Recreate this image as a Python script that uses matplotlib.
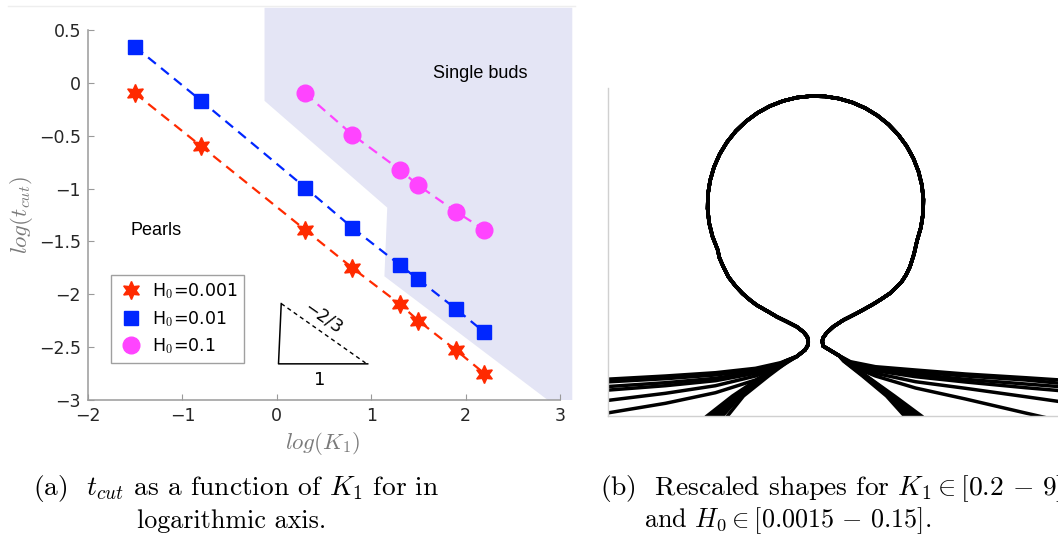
import numpy as np
import matplotlib
matplotlib.use("Agg")
import matplotlib.pyplot as plt
from matplotlib.patches import Polygon
from matplotlib.lines import Line2D

plt.rcParams['mathtext.fontset'] = 'cm'
plt.rcParams['font.family'] = 'DejaVu Sans'

# (a) cut time against K1, one series per spontaneous curvature H0
log_K1 = [-1.5, -0.8, 0.3, 0.8, 1.3, 1.5, 1.9, 2.2]
log_t_H0_001 = [-0.10, -0.60, -1.39, -1.75, -2.09, -2.25, -2.53, -2.75]
log_t_H0_01 = [0.34, -0.17, -0.99, -1.37, -1.72, -1.86, -2.14, -2.36]
log_K1_H0_1 = [0.3, 0.8, 1.3, 1.5, 1.9, 2.2]
log_t_H0_1 = [-0.10, -0.49, -0.82, -0.97, -1.22, -1.39]
series_labels = ['H$_0$=0.001', 'H$_0$=0.01', 'H$_0$=0.1']

# outline of the single-bud regime
buds_x = [-0.13, -0.13, 1.17, 1.14, 2.87, 3.13, 3.13]
buds_y = [0.71, -0.17, -1.18, -1.83, -3.0, -3.0, 0.71]

# (b) rescaled profiles; shared bud running from the left neck tip to the right one
bud_x = [-0.072, -0.082, -0.12, -0.188, -0.29, -0.388, -0.45, -0.52, -0.59, -0.655,
         -0.73, -0.80, -0.87, -0.922, -0.96, -0.979,
         -1.030, -1.064, -1.079, -1.076, -1.054, -1.015, -0.958, -0.885, -0.796,
         -0.694, -0.580, -0.456, -0.325, -0.188, -0.047, 0.094, 0.234, 0.369, 0.499,
         0.619, 0.730, 0.827, 0.911, 0.979, 1.030, 1.064, 1.079, 1.076, 1.054, 1.015,
         0.985, 0.945, 0.905, 0.86, 0.80, 0.745, 0.66, 0.58, 0.50, 0.412, 0.34, 0.28,
         0.178, 0.11, 0.075, 0.068]
bud_y = [0.743, 0.793, 0.84, 0.893, 0.945, 0.993, 1.03, 1.07, 1.11, 1.16,
         1.225, 1.30, 1.39, 1.493, 1.58, 1.664,
         1.795, 1.932, 2.073, 2.214, 2.354, 2.489, 2.619, 2.739, 2.850,
         2.947, 3.031, 3.099, 3.150, 3.184, 3.199, 3.196, 3.174, 3.135, 3.078,
         3.005, 2.916, 2.814, 2.700, 2.576, 2.445, 2.308, 2.167, 2.026, 1.886, 1.751,
         1.62, 1.493, 1.41, 1.34, 1.28, 1.227, 1.17, 1.12, 1.075, 1.027, 0.99, 0.96,
         0.893, 0.83, 0.78, 0.75]
# below the neck tips
neck_left_x = [-0.08, -0.105, -0.188]
neck_left_y = [0.70, 0.66, 0.595]
neck_right_x = [0.075, 0.133, 0.233]
neck_right_y = [0.70, 0.665, 0.605]

# flattening tails
flat_left_x = [-0.35, -0.6, -1.0, -1.5, -2.1]
flat_left_y = [
    [0.533, 0.477, 0.433, 0.400, 0.367],
    [0.527, 0.460, 0.410, 0.373, 0.340],
    [0.520, 0.443, 0.377, 0.333, 0.293],
    [0.513, 0.427, 0.353, 0.303, 0.257],
    [0.503, 0.400, 0.303, 0.227, 0.153],
    [0.493, 0.360, 0.233, 0.127, 0.027],
]
flat_right_x = [0.35, 0.6, 1.0, 1.5, 2.1, 2.45]
flat_right_y = [
    [0.543, 0.493, 0.460, 0.420, 0.383, 0.360],
    [0.537, 0.480, 0.440, 0.400, 0.360, 0.327],
    [0.530, 0.467, 0.417, 0.367, 0.320, 0.293],
    [0.523, 0.453, 0.393, 0.340, 0.283, 0.253],
    [0.513, 0.427, 0.343, 0.277, 0.193, 0.143],
    [0.503, 0.400, 0.280, 0.170, 0.030, -0.050],
]
# steep tails, x given at fixed heights
steep_y = [0.55, 0.4, 0.2, 0.0]
steep_left_x = [
    [-0.27, -0.47, -0.72, -0.88],
    [-0.28, -0.49, -0.75, -0.93],
    [-0.29, -0.50, -0.77, -0.97],
    [-0.29, -0.51, -0.79, -1.01],
    [-0.30, -0.52, -0.81, -1.05],
    [-0.30, -0.53, -0.83, -1.085],
]
steep_right_x = [
    [0.28, 0.47, 0.71, 0.89],
    [0.285, 0.48, 0.73, 0.93],
    [0.29, 0.49, 0.745, 0.97],
    [0.295, 0.50, 0.76, 1.00],
    [0.30, 0.505, 0.775, 1.03],
    [0.30, 0.51, 0.79, 1.06],
]

W, H = 1058, 536
fig = plt.figure(figsize=(W / 100, H / 100), dpi=100)


def fx(px):
    return px / W


def fy(py):
    return 1 - py / H


# ---------------- panel (a)
ax = fig.add_axes([fx(88), fy(400), fx(560) - fx(88), fy(30) - fy(400)])
ax.set_xlim(-2, 3)
ax.set_ylim(-3, 0.5)

ax.add_patch(Polygon(np.column_stack([buds_x, buds_y]), closed=True,
                     facecolor='#e4e5f5', edgecolor='none', zorder=0, clip_on=False))

dash = (0, (4.5, 3))
red, blue, magenta = '#ff2a00', '#0026ff', '#ff44ff'
ax.plot(log_K1, log_t_H0_001, linestyle=dash, color=red, lw=1.6, zorder=2)
ax.plot(log_K1, log_t_H0_01, linestyle=dash, color=blue, lw=1.6, zorder=2)
ax.plot(log_K1_H0_1, log_t_H0_1, linestyle=dash, color=magenta, lw=1.6, zorder=2)
h1, = ax.plot(log_K1, log_t_H0_001, linestyle='none', marker=(6, 1, 0), ms=13,
              color=red, mec=red, zorder=3)
h2, = ax.plot(log_K1, log_t_H0_01, linestyle='none', marker='s', ms=10,
              color=blue, mec=blue, zorder=3)
h3, = ax.plot(log_K1_H0_1, log_t_H0_1, linestyle='none', marker='o', ms=12,
              color=magenta, mec=magenta, zorder=3)

leg = ax.legend([h1, h2, h3], series_labels, loc='upper left',
                bbox_to_anchor=(0.049, 0.338), borderaxespad=0, fontsize=12.5,
                fancybox=False, framealpha=1, edgecolor='#a0a0a0',
                handletextpad=0.4, labelspacing=0.45, borderpad=0.35,
                handlelength=1.6)
leg.get_frame().set_linewidth(1.0)

ax.text(-1.28, -1.40, 'Pearls', fontsize=13, family='Liberation Sans',
        ha='center', va='center')
ax.text(2.16, 0.09, 'Single buds', fontsize=13, family='Liberation Sans',
        ha='center', va='center')

# slope triangle
ax.plot([0.047, 0.018, 0.963], [-2.088, -2.658, -2.658], color='black', lw=1.1)
ax.plot([0.047, 0.939], [-2.088, -2.649], color='black', lw=1.0, linestyle=(0, (3, 2.5)))
ax.text(0.452, -2.81, '1', fontsize=13, ha='center', va='center')
ax.text(0.49, -2.22, '\u22122/3', fontsize=12.5, ha='center', va='center', rotation=-35)

for s in ['top', 'right']:
    ax.spines[s].set_visible(False)
for s in ['left', 'bottom']:
    ax.spines[s].set_color('#9a9a9a')
    ax.spines[s].set_linewidth(1.1)
ax.set_xticks([-2, -1, 0, 1, 2, 3])
ax.set_yticks([-3, -2.5, -2, -1.5, -1, -0.5, 0, 0.5])
ax.set_yticklabels(['\u22123', '\u22122.5', '\u22122', '\u22121.5', '\u22121', '\u22120.5', '0', '0.5'])
ax.tick_params(direction='in', length=4, color='#9a9a9a', labelcolor='#262626',
               labelsize=12.5, pad=5)
ax.set_xlabel(r'$log(K_1)$', fontsize=16.5, color='#7a7a7a')
ax.set_ylabel(r'$log(t_{cut})$', fontsize=16.5, color='#7a7a7a')
ax.xaxis.set_label_coords(0.497, -0.082)
ax.yaxis.set_label_coords(-0.112, 0.5)

# ---------------- panel (b)
bx = fig.add_axes([fx(608), fy(416), fx(1080) - fx(608), fy(88) - fy(416)])
bx.set_xlim(-2.075, 2.645)
bx.set_ylim(0, 3.28)
bx.set_xticks([])
bx.set_yticks([])
for s in ['top', 'right']:
    bx.spines[s].set_visible(False)
for s in ['left', 'bottom']:
    bx.spines[s].set_color('#d0d0d0')
    bx.spines[s].set_linewidth(1.0)


def profile(left_x, left_y, right_x, right_y):
    xs = list(left_x[::-1]) + neck_left_x[::-1] + bud_x + neck_right_x + list(right_x)
    ys = list(left_y[::-1]) + neck_left_y[::-1] + bud_y + neck_right_y + list(right_y)
    return xs, ys


for ly, ry in zip(flat_left_y, flat_right_y):
    xs, ys = profile(flat_left_x, ly, flat_right_x, ry)
    bx.plot(xs, ys, color='black', lw=2.5, solid_joinstyle='round')
for lx, rx in zip(steep_left_x, steep_right_x):
    xs, ys = profile(lx, steep_y, rx, steep_y)
    bx.plot(xs, ys, color='black', lw=2.5, solid_joinstyle='round')

# ---------------- captions (first lines are set justified, so a touch wider)
cap1 = dict(fontsize=19.8, family='cmr10', va='center', ha='left')
cap2 = dict(fontsize=18.8, family='cmr10', va='center', ha='center')
fig.text(fx(33), fy(489), r'(a)  $t_{cut}$ as a function of $K_1$ for in', **cap1)
fig.text(fx(232), fy(521), 'logarithmic axis.', **cap2)
fig.text(fx(600), fy(489), r'(b)  Rescaled shapes for $K_1 \in [0.2\,-\,9]$', **cap1)
fig.text(fx(788), fy(521), r'and $H_0 \in [0.0015\,-\,0.15]$.', **cap2)

fig.add_artist(Line2D([fx(8), fx(575)], [fy(6), fy(6)], color='#eeeeee', lw=1))

fig.savefig('out.png', dpi=100)
